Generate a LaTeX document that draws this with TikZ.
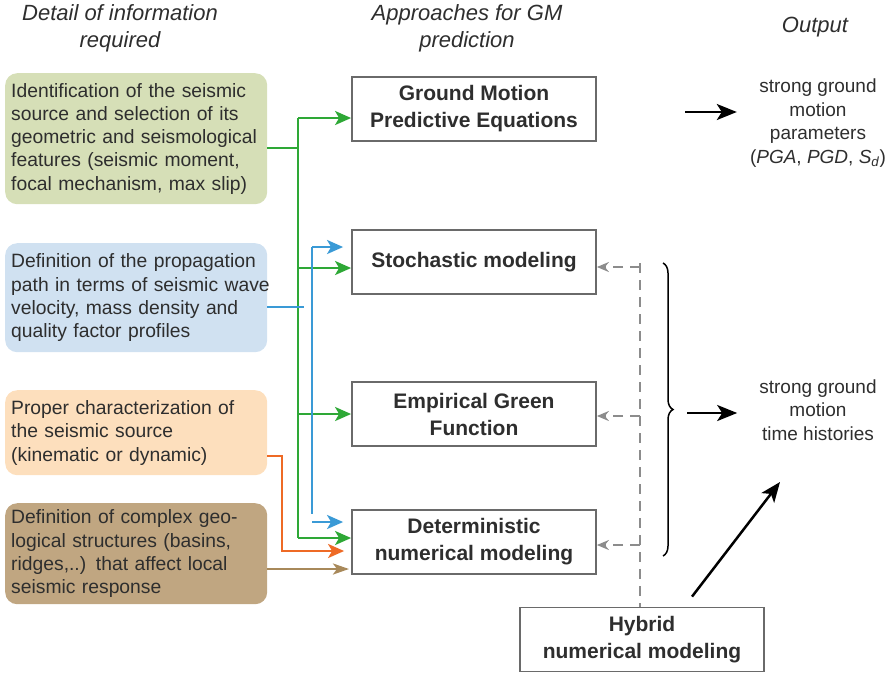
\documentclass[tikz,border=0pt]{standalone}
\usepackage{fontspec}
\setmainfont{Liberation Sans}
\usepackage{tikz}
\usetikzlibrary{arrows.meta,calc,positioning,decorations.pathreplacing}
\definecolor{srcgreen}{HTML}{D6DFB7}
\definecolor{srcblue}{HTML}{D0E1F1}
\definecolor{srcorange}{HTML}{FDDFBD}
\definecolor{srcbrown}{HTML}{C0A681}
\definecolor{lngreen}{HTML}{2EA836}
\definecolor{lnblue}{HTML}{3A9AD6}
\definecolor{lnorange}{HTML}{EE6A25}
\definecolor{lnbrown}{HTML}{A8895A}
\definecolor{framegray}{HTML}{6A6A6A}
\definecolor{dashgray}{HTML}{8C8C8C}
\definecolor{textdark}{HTML}{2E2E2E}

\begin{document}
\begin{tikzpicture}[x=1pt,y=-1pt,
 every node/.style={text=textdark,inner sep=0pt},
 head/.style={font=\fontsize{22}{27}\selectfont\itshape,align=center},
 src/.style={anchor=north west,rounded corners=12pt,minimum width=262pt,
   text width=250pt,inner xsep=6pt,align=left,font=\fontsize{19.3}{23.3}\selectfont},
 appr/.style={draw=framegray,line width=1.8pt,fill=white,minimum width=244pt,
   minimum height=64pt,align=center,font=\fontsize{21}{27}\selectfont\bfseries},
 outtxt/.style={align=center,font=\fontsize{19}{23.5}\selectfont},
 tip/.style={-{Stealth[length=16pt,width=14pt,inset=4pt]},line width=2.6pt},
 garr/.style={tip,draw=lngreen},
 barr/.style={tip,draw=lnblue,shorten >=8pt},
 oarr/.style={tip,draw=lnorange,shorten >=7pt},
 warr/.style={tip,draw=lnbrown,-{Stealth[length=16pt,width=11pt,inset=4pt]}},
 dline/.style={draw=dashgray,line width=2pt,dash pattern=on 10pt off 7pt},
 darr/.style={dline,-{Stealth[length=12pt,width=10pt,inset=4pt]}},
 karr/.style={draw=black,line width=2.5pt,-{Stealth[length=20pt,width=16pt,inset=5pt]}}]
 \useasboundingbox (0,0) rectangle (893,673);

 \node[head] (hdet) at (120,28.5) {Detail of information\\required};
 \node[head] (happ) at (467,28.5) {Approaches for GM\\prediction};
 \node[head] (hout) at (815,27) {Output};

 \node[src,fill=srcgreen,minimum height=131pt] (geo) at (5,73)
   {Identification of the seismic\\source and selection of its\\geometric and seismological\\features (seismic moment,\\focal mechanism, max slip)};
 \node[src,fill=srcblue,minimum height=109pt] (path) at (5,243)
   {Definition of the propagation\\\mbox{path in terms of seismic wave}\\velocity, mass density and\\quality factor profiles};
 \node[src,fill=srcorange,minimum height=85pt] (kin) at (5,390)
   {Proper characterization of\\the seismic source\\(kinematic or dynamic)};
 \node[src,fill=srcbrown,minimum height=101pt] (geol) at (5,503)
   {Definition of complex geo-\\logical structures (basins,\\ridges,..) that affect local\\seismic response};

 \node[appr] (gmpe) at (474,109) {Ground Motion\\Predictive Equations};
 \node[appr] (stoch) at (474,262) {Stochastic modeling};
 \node[appr] (egf) at (474,414) {Empirical Green\\Function};
 \node[appr] (det) at (474,542) {Deterministic\\numerical modeling};
 \node[appr] (hyb) at (642,639.5) {Hybrid\\numerical modeling};

 \node[outtxt] (par) at (818,123) {strong ground\\motion\\parameters\\(\textit{PGA}, \textit{PGD}, \textit{S}\textsubscript{\textit{d}})};
 \node[outtxt] (hist) at (818,410) {strong ground\\motion\\time histories};

 \coordinate (gj) at (298,148);
 \coordinate (gtop) at (298,118);
 \coordinate (gbot) at (298,538);
 \coordinate (bj) at (312,307);
 \coordinate (btop) at (312,247);
 \coordinate (bbot) at (312,522);
 \coordinate (oj) at (282,456);
 \coordinate (obot) at (282,551);
 \coordinate (wend) at (349,569);
 \coordinate (htop) at (640,263);
 \coordinate (hs) at (640,267);
 \coordinate (he) at (640,416);
 \coordinate (hd) at (640,545);
 \coordinate (brtop) at (663,263);
 \coordinate (brbot) at (663,556);
 \coordinate (ka) at (687,413);
 \coordinate (pa) at (685,112);
 \coordinate (dg) at (780,482);

 \draw[garr,-] (geo.east |- gj) -- (gj);
 \draw[garr,-] (gtop) -- (gbot);
 \draw[garr] (gtop) -- (gtop -| gmpe.west);
 \draw[garr] (gj |- 0,268) -- (stoch.west |- 0,268);
 \draw[garr] (gj |- egf) -- (egf.west);
 \draw[garr] (gbot) -- (gbot -| det.west);
 \draw[barr,-] (path.east |- bj) -- (bj);
 \draw[barr,-] (btop) -- (bbot);
 \draw[barr] (btop) -- (btop -| stoch.west);
 \draw[barr] (bbot) -- (bbot -| det.west);
 \draw[oarr] (kin.east |- oj) -- (oj) |- (obot -| det.west);
 \draw[warr] (geol.east |- wend) -- (wend);

 \draw[dline] (htop) -- (htop |- hyb.north);
 \draw[darr] (hs) -- (hs -| stoch.east);
 \draw[darr] (he) -- (he -| egf.east);
 \draw[darr] (hd) -- (hd -| det.east);

 \draw[line width=1.5pt,decorate,decoration={brace,amplitude=10pt}] (brtop) -- (brbot);
 \draw[karr,shorten >=22pt] (ka) -- (ka -| hist.west);
 \draw[karr,shorten >=13pt] (pa) -- (pa -| par.west);
 \draw[karr] ($(hyb.north)+(50,-10)$) -- (dg);
\end{tikzpicture}
\end{document}
